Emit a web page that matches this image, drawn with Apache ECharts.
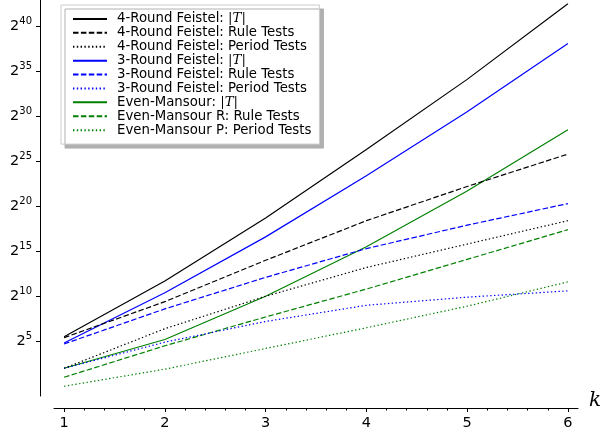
<!DOCTYPE html>
<html>
<head>
<meta charset="utf-8">
<script src="https://cdn.jsdelivr.net/npm/echarts@6/dist/echarts.min.js"></script>
<style>
html,body{margin:0;padding:0;background:#fff;}
#chart{width:600px;height:435px;}
</style>
</head>
<body>
<div id="chart"></div>
<script>
// x values (k) and log2 of each series value
const ks = [1, 2, 3, 4, 5, 6];
const feistel4T      = [5.5, 11.7, 18.7, 26.3, 34.1, 42.5];
const feistel4Rule   = [5.4, 9.4, 14.0, 18.4, 22.2, 25.8];
const feistel4Period = [2.0, 6.4, 10.0, 13.2, 15.8, 18.4];
const feistel3T      = [4.8, 10.4, 16.6, 23.4, 30.5, 38.1];
const feistel3Rule   = [4.7, 8.6, 12.1, 15.3, 17.9, 20.3];
const feistel3Period = [2.0, 4.9, 7.2, 9.0, 9.9, 10.6];
const emT            = [2.0, 5.2, 10.0, 15.5, 21.7, 28.5];
const emRule         = [1.0, 4.5, 7.7, 10.8, 14.1, 17.4];
const emPeriod       = [0.0, 1.9, 4.2, 6.5, 8.9, 11.6];

const seriesNames = [
  '4-Round Feistel: |T|', '4-Round Feistel: Rule Tests', '4-Round Feistel: Period Tests',
  '3-Round Feistel: |T|', '3-Round Feistel: Rule Tests', '3-Round Feistel: Period Tests',
  'Even-Mansour: |T|', 'Even-Mansour R: Rule Tests', 'Even-Mansour P: Period Tests'
];
const seriesData = [feistel4T, feistel4Rule, feistel4Period, feistel3T, feistel3Rule, feistel3Period, emT, emRule, emPeriod];
const xTickLabels = [1, 2, 3, 4, 5, 6];
const xMinorTicks = [1.2, 1.4, 1.6, 1.8, 2.2, 2.4, 2.6, 2.8, 3.2, 3.4, 3.6, 3.8, 4.2, 4.4, 4.6, 4.8, 5.2, 5.4, 5.6, 5.8];
const yTickExps = [5, 10, 15, 20, 25, 30, 35, 40];

const colors = ['#000000', '#000000', '#000000', '#0000ff', '#0000ff', '#0000ff', '#008000', '#008000', '#008000'];
const DASHED = [5.5, 2.4];
const DOTTED = [1.4, 2.4];
const types = ['solid', DASHED, DOTTED, 'solid', DASHED, DOTTED, 'solid', DASHED, DOTTED];

const chart = echarts.init(document.getElementById('chart'), null, {renderer: 'canvas'});

const series = seriesNames.map((name, i) => ({
  name: name,
  type: 'line',
  symbol: 'none',
  showSymbol: false,
  xAxisIndex: 0,
  yAxisIndex: 0,
  data: ks.map((k, j) => [k, seriesData[i][j]]),
  lineStyle: {color: colors[i], width: 1.2, type: types[i]},
  itemStyle: {color: colors[i]},
  emphasis: {disabled: true},
  z: 10 - Math.floor(i / 3)
}));

const option = {
  animation: false,
  backgroundColor: '#ffffff',
  textStyle: {fontFamily: 'DejaVu Sans'},
  grid: {left: 54, right: 22, top: 0, bottom: 39, containLabel: false, outerBoundsMode: 'none'},
  xAxis: [{
    type: 'value',
    min: 0.9,
    max: 6.1,
    offset: 12,
    position: 'bottom',
    axisLine: {show: true, onZero: false, lineStyle: {color: '#000', width: 1}},
    axisTick: {show: true, inside: false, length: 4, customValues: xTickLabels, lineStyle: {color: '#000', width: 1}},
    axisLabel: {show: true, customValues: xTickLabels, margin: 8, fontSize: 14.5, color: '#000', fontFamily: 'DejaVu Sans'},
    splitLine: {show: false},
    name: 'k',
    nameLocation: 'end',
    nameGap: 11,
    nameTextStyle: {fontFamily: 'DejaVu Serif', fontStyle: 'italic', fontSize: 20, color: '#000', verticalAlign: 'bottom', lineHeight: 15}
  }, {
    type: 'value',
    min: 0.9,
    max: 6.1,
    offset: 12,
    position: 'bottom',
    axisLine: {show: false, onZero: false},
    axisTick: {show: true, inside: false, length: 2.5, customValues: xMinorTicks, lineStyle: {color: '#000', width: 1}},
    axisLabel: {show: false},
    splitLine: {show: false}
  }],
  yAxis: [{
    type: 'value',
    min: -1.08,
    max: 42.92,
    offset: 14,
    position: 'left',
    axisLine: {show: true, onZero: false, lineStyle: {color: '#000', width: 1}},
    axisTick: {show: true, inside: false, length: 4, customValues: yTickExps, lineStyle: {color: '#000', width: 1}},
    axisLabel: {
      show: true,
      customValues: yTickExps,
      margin: 8,
      formatter: v => '{b|2}{s|' + v + '}',
      rich: {
        b: {fontSize: 14.5, lineHeight: 20, color: '#000', fontFamily: 'DejaVu Sans'},
        s: {fontSize: 10, lineHeight: 10, verticalAlign: 'top', color: '#000', fontFamily: 'DejaVu Sans'}
      }
    },
    splitLine: {show: false}
  }],
  legend: {
    show: true,
    orient: 'vertical',
    left: 61,
    top: 5,
    itemWidth: 34,
    itemHeight: 13.9,
    itemGap: 0,
    padding: [7, 8, 7, 11],
    backgroundColor: '#ffffff',
    borderColor: '#cccccc',
    borderWidth: 1,
    shadowColor: '#b0b0b0',
    shadowBlur: 0,
    shadowOffsetX: 4,
    shadowOffsetY: 4,
    selectedMode: false,
    itemStyle: {opacity: 0, borderWidth: 0},
    data: seriesNames,
    formatter: name => name.replace('|T|', '{m||}{i|T}{m||}'),
    textStyle: {
      fontSize: 13.3,
      lineHeight: 13.9,
      color: '#000',
      fontFamily: 'DejaVu Sans',
      padding: [0, 0, 0, 5],
      rich: {
        m: {fontSize: 13.3, lineHeight: 13.9, fontFamily: 'DejaVu Serif', color: '#000'},
        i: {fontSize: 13.3, lineHeight: 13.9, fontFamily: 'DejaVu Serif', fontStyle: 'italic', color: '#000'}
      }
    }
  },
  series: series
};

chart.setOption(option);
</script>
</body>
</html>
